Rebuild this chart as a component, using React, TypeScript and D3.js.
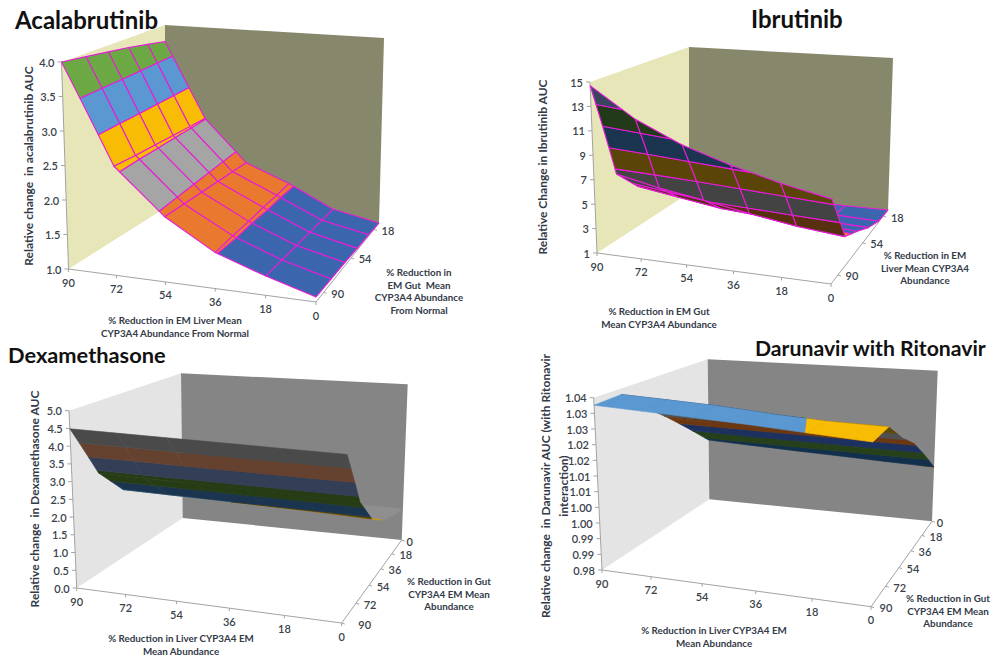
import * as d3 from 'd3';
import React, { useEffect, useRef } from 'react';

type Pt = [number, number];

// Shared category labels
const liverLevels = ['90', '72', '54', '36', '18', '0'];
const gutLevelsFull = ['90', '72', '54', '36', '18', '0'];
const gutLevelsShort = ['90', '54', '18'];

// Relative AUC, one row per depth step from the front of the floor to the back
const acalabrutinibAuc = [
  [4.0, 2.57, 1.93, 1.51, 1.27, 1.07],
  [3.95, 2.55, 1.91, 1.52, 1.25, 1.06],
  [3.9, 2.54, 1.89, 1.52, 1.23, 1.05],
  [3.85, 2.53, 1.87, 1.53, 1.21, 1.03],
  [3.79, 2.52, 1.85, 1.53, 1.19, 1.02],
  [3.73, 2.51, 1.83, 1.54, 1.17, 1.0],
];
const ibrutinibAuc = [
  [14.7, 12.3, 10.6, 9.4, 8.4, 7.6],
  [6.5, 5.7, 5.1, 4.4, 3.8, 3.4],
  [4.5, 3.9, 3.3, 3.0, 2.8, 2.6],
  [3.2, 2.8, 2.4, 2.1, 1.9, 1.7],
  [2.5, 2.1, 1.8, 1.5, 1.3, 1.1],
  [2.0, 1.7, 1.5, 1.2, 1.05, 1.0],
];
const dexamethasoneAuc = [
  [4.49, 4.49, 4.49, 4.49, 4.49, 4.49],
  [2.9, 2.88, 2.86, 2.84, 2.82, 2.8],
  [2.05, 2.03, 2.01, 1.98, 1.95, 1.9],
  [1.65, 1.62, 1.6, 1.56, 1.52, 1.45],
  [1.3, 1.28, 1.26, 1.24, 1.22, 1.2],
  [1.05, 1.04, 1.03, 1.02, 1.01, 1.0],
];
const darunavirAuc = [
  [1.0374, 1.0368, 1.0362, 1.0355, 1.0345, 1.0335],
  [1.0378, 1.0372, 1.0365, 1.0352, 1.0342, 1.034],
  [1.0294, 1.029, 1.0287, 1.0275, 1.0262, 1.0258],
  [1.0218, 1.0213, 1.0208, 1.0204, 1.0199, 1.0194],
  [1.0137, 1.0131, 1.0125, 1.0119, 1.0113, 1.0107],
  [1.0054, 1.0046, 1.0038, 1.0031, 1.0023, 1.0016],
];

const acalabrutinibTicks = ['1.0', '1.5', '2.0', '2.5', '3.0', '3.5', '4.0'];
const ibrutinibTicks = ['1', '3', '5', '7', '9', '11', '13', '15'];
const dexamethasoneTicks = ['0.0', '0.5', '1.0', '1.5', '2.0', '2.5', '3.0', '3.5', '4.0', '4.5', '5.0'];
const darunavirTicks = ['0.98', '0.99', '0.99', '1.00', '1.00', '1.01', '1.01', '1.02', '1.02', '1.03', '1.03', '1.04'];

// Excel's band colours for the upper face and the shaded lower face of a surface
const upperFace = ['#3b66ae', '#e8792e', '#a5a5a5', '#f9bc04', '#5b98d2', '#6ca945'];
const mutedUpperFace = ['#3b66ae', '#e8792e', '#8f8f8f', '#d09a05', '#5b98d2', '#6ca945'];
const lowerFace = ['#3a4560', '#57300f', '#434343', '#5a4408', '#1b3550', '#22391a'];
const dexLowerFace = ['#333e57', '#64422f', '#4a4a4a', '#5a4408', '#1b3550', '#263c15'];
const darLowerFace = ['#1c3160', '#6b3712', '#4f4f4f', '#5a4a08', '#12304e', '#25401a'];

const yellowWalls = { side: '#e6e6b9', back: '#87876c' };
const greyWalls = { side: '#e4e4e4', back: '#858585' };

const charts = [
  {
    title: 'Acalabrutinib', titleX: 15, titleY: 29, titleSize: 24,
    values: acalabrutinibAuc, yTicks: acalabrutinibTicks, domain: [1, 4],
    depthLabels: gutLevelsShort, depthAt: [0.5, 2.5, 4.5], depthDx: [14, 14, 14],
    mesh: true, walls: yellowWalls, faces: upperFace, under: lowerFace, warp: 0.175,
    floor: [[68.5, 269], [316, 302], [379, 223], [165, 208]] as Pt[],
    ceil: [[61.5, 62], [320, 87], [384, 38], [165, 25]] as Pt[],
    yTitle: ['Relative change  in acalabrutinib AUC'], yTitleX: [33], yTitleY: 166,
    xTitle: ['% Reduction in EM Liver Mean', 'CYP3A4 Abundance From Normal'], xTitleX: 175, xTitleY: 324,
    zTitle: ['% Reduction in', 'EM Gut  Mean', 'CYP3A4 Abundance', 'From Normal'], zTitleX: 419, zTitleY: 276,
  },
  {
    title: 'Ibrutinib', titleX: 751, titleY: 28, titleSize: 24,
    values: ibrutinibAuc, yTicks: ibrutinibTicks, domain: [1, 15],
    depthLabels: gutLevelsShort, depthAt: [0.5, 2.5, 4.5], depthDx: [14, 14, 14],
    mesh: true, walls: yellowWalls, faces: upperFace, under: lowerFace, warp: 0.08,
    floor: [[597, 253], [831, 284], [888, 210], [689, 193]] as Pt[],
    ceil: [[590, 82], [833, 104], [893, 58], [689, 47]] as Pt[],
    yTitle: ['Relative Change in Ibrutinib AUC'], yTitleX: [547], yTitleY: 167,
    xTitle: ['% Reduction in EM Gut', 'Mean CYP3A4 Abundance'], xTitleX: 659, xTitleY: 315,
    zTitle: ['% Reduction in EM', 'Liver Mean CYP3A4', 'Abundance'], zTitleX: 925, zTitleY: 259,
  },
  {
    title: 'Dexamethasone', titleX: 8, titleY: 363, titleSize: 21.8,
    values: dexamethasoneAuc, yTicks: dexamethasoneTicks, domain: [0, 5],
    depthLabels: gutLevelsFull, depthAt: [0, 1, 2, 3, 4, 5], depthDx: [23, 14, 14, 14, 14, 8],
    mesh: false, walls: greyWalls, faces: mutedUpperFace, under: dexLowerFace, warp: 0,
    floor: [[76.7, 588], [341.7, 623], [401.7, 540], [182.7, 518]] as Pt[],
    ceil: [[69, 410.7], [347.7, 435.3], [407.7, 384.3], [181, 373.3]] as Pt[],
    yTitle: ['Relative change  in Dexamethasone AUC'], yTitleX: [39], yTitleY: 499,
    xTitle: ['% Reduction in Liver CYP3A4 EM', 'Mean Abundance'], xTitleX: 181, xTitleY: 642.3,
    zTitle: ['% Reduction in Gut', 'CYP3A4 EM Mean', 'Abundance'], zTitleX: 449, zTitleY: 585,
  },
  {
    title: 'Darunavir with Ritonavir', titleX: 755, titleY: 356, titleSize: 21.2,
    values: darunavirAuc, yTicks: darunavirTicks, domain: [0.98, 1.04],
    depthLabels: gutLevelsFull, depthAt: [0, 1, 2, 3, 4, 5], depthDx: [15, 14, 14, 14, 14, 8],
    mesh: false, walls: greyWalls, faces: upperFace, under: darLowerFace, warp: 0,
    floor: [[602, 570], [871, 606.7], [932, 521.3], [709.3, 499.3]] as Pt[],
    ceil: [[593.7, 397.7], [873, 422], [937.7, 370.7], [707.7, 359.3]] as Pt[],
    yTitle: ['Relative change  in Darunavir AUC (with Ritonavir', 'interaction)'], yTitleX: [550, 568], yTitleY: 486,
    xTitle: ['% Reduction in Liver CYP3A4 EM', 'Mean Abundance'], xTitleX: 714, xTitleY: 634,
    zTitle: ['% Reduction in Gut', 'CYP3A4 EM Mean', 'Abundance'], zTitleX: 948, zTitleY: 602,
  },
];

// Maps the unit square onto a screen quad, so depth shortens the way it does in the picture
const quadMap = (q: Pt[]) => {
  const [[x0, y0], [x1, y1], [x2, y2], [x3, y3]] = q;
  const dx1 = x1 - x2, dx2 = x3 - x2, sx = x0 - x1 + x2 - x3;
  const dy1 = y1 - y2, dy2 = y3 - y2, sy = y0 - y1 + y2 - y3;
  const det = dx1 * dy2 - dx2 * dy1;
  const g = (sx * dy2 - dx2 * sy) / det;
  const h = (dx1 * sy - sx * dy1) / det;
  const a = x1 - x0 + g * x1, b = x3 - x0 + h * x3;
  const d = y1 - y0 + g * y1, e = y3 - y0 + h * y3;
  return (u: number, v: number): Pt => {
    const w = g * u + h * v + 1;
    return [(a * u + b * v + x0) / w, (d * u + e * v + y0) / w];
  };
};

type Vertex = { i: number; j: number; val: number };

// Keeps the part of a cell on one side of a value, interpolating along the edges
const clipByValue = (poly: Vertex[], limit: number, keepAbove: boolean) => {
  const inside = (p: Vertex) => (keepAbove ? p.val >= limit : p.val <= limit);
  const out: Vertex[] = [];
  poly.forEach((p, k) => {
    const q = poly[(k + 1) % poly.length];
    if (inside(p)) out.push(p);
    if (inside(p) !== inside(q)) {
      const t = (limit - p.val) / (q.val - p.val);
      out.push({ i: p.i + t * (q.i - p.i), j: p.j + t * (q.j - p.j), val: limit });
    }
  });
  return out;
};

const drawChart = (root: d3.Selection<SVGGElement, unknown, null, undefined>, c: (typeof charts)[number]) => {
  const ticksN = c.yTicks.length - 1;
  const step = (c.domain[1] - c.domain[0]) / ticksN;
  const x = d3.scaleLinear().domain([0, liverLevels.length - 1]).range([0, 1]);
  const z = d3.scaleLinear().domain([0, c.values.length - 1]).range([0, 1]);
  const y = d3.scaleLinear().domain(c.domain).range([0, 1]);
  const floorAt = quadMap(c.floor);
  const ceilAt = quadMap(c.ceil);
  const project = (i: number, j: number, val: number): Pt => {
    // Excel's columns are more even than a plain perspective, mostly at the front
    const u = x(i) + c.warp * (1 - 0.6 * z(j)) * x(i) * (1 - x(i));
    const a = floorAt(u, z(j));
    const b = ceilAt(u, z(j));
    const t = y(val);
    return [a[0] + t * (b[0] - a[0]), a[1] + t * (b[1] - a[1])];
  };
  const path = d3.line<Pt>().curve(d3.curveLinearClosed);
  const [fl, fr, br, bl] = c.floor;
  const [tfl, , tbr, tbl] = c.ceil;

  const g = root.append('g');
  g.append('path').attr('d', path([fl, tfl, tbl, bl])).attr('fill', c.walls.side);
  g.append('path').attr('d', path([bl, tbl, tbr, br])).attr('fill', c.walls.back);

  // Axis lines and ticks
  const axis = '#a3a3a3';
  const line = (a: Pt, b: Pt) => g.append('line').attr('x1', a[0]).attr('y1', a[1]).attr('x2', b[0]).attr('y2', b[1]).attr('stroke', axis);
  line(fl, tfl);
  line(fl, fr);
  line(fr, br);

  const tickFont = { family: 'Lato, sans-serif', size: 11, fill: '#3a3f4a' };
  const label = (text: string, p: Pt, anchor: string) =>
    g.append('text').text(text).attr('x', p[0]).attr('y', p[1]).attr('text-anchor', anchor).attr('dominant-baseline', 'central')
      .attr('font-family', tickFont.family).attr('font-size', tickFont.size).attr('fill', tickFont.fill).attr('font-weight', 600);

  c.yTicks.forEach((t, k) => {
    const p = project(0, 0, c.domain[0] + k * step);
    line(p, [p[0] - 4, p[1]]);
    label(t, [p[0] - 7, p[1]], 'end');
  });
  liverLevels.forEach((t, k) => {
    const p = project(k, 0, c.domain[0]);
    line(p, [p[0], p[1] + 3]);
    label(t, [p[0], p[1] + 13], 'middle');
  });
  c.depthLabels.forEach((t, k) => {
    const p = project(liverLevels.length - 1, c.depthAt[k], c.domain[0]);
    line(p, [p[0] + 3, p[1] + 1]);
    label(t, [p[0] + c.depthDx[k], p[1] + 1], 'middle');
  });

  // Surface cells from back to front, left to right, cut into value bands
  const rows = c.values.length - 1;
  const cols = liverLevels.length - 1;
  for (let j = rows - 1; j >= 0; j -= 1) {
    for (let i = 0; i < cols; i += 1) {
      const cell: Vertex[] = [
        { i, j, val: c.values[j][i] },
        { i: i + 1, j, val: c.values[j][i + 1] },
        { i: i + 1, j: j + 1, val: c.values[j + 1][i + 1] },
        { i, j: j + 1, val: c.values[j + 1][i] },
      ];
      d3.range(ticksN).forEach((band) => {
        const lo = c.domain[0] + band * step;
        let poly = clipByValue(cell, lo, true);
        if (poly.length) poly = clipByValue(poly, lo + step, false);
        if (poly.length < 3) return;
        const pts = poly.map((p) => project(p.i, p.j, p.val));
        // d3.polygonArea is positive when the upper face points at the viewer
        const upper = d3.polygonArea(pts) > 0;
        const fill = (upper ? c.faces : c.under)[band % 6];
        g.append('path').attr('d', path(pts)).attr('fill', fill)
          .attr('stroke', c.mesh ? '#e81bd8' : fill)
          .attr('stroke-width', c.mesh ? 1.1 : 0.6)
          .attr('stroke-linejoin', 'round');
      });
    }
  }

  // Titles
  const titleFont = 'Lato, sans-serif';
  g.append('text').text(c.title).attr('x', c.titleX).attr('y', c.titleY)
    .attr('font-family', titleFont).attr('font-weight', 700).attr('font-size', c.titleSize).attr('fill', '#111');
  const bold = (text: string, px: number, py: number, size = 9.8) =>
    g.append('text').text(text).attr('x', px).attr('y', py).attr('text-anchor', 'middle').attr('xml:space', 'preserve')
      .attr('font-family', titleFont).attr('font-weight', 700).attr('font-size', size).attr('fill', '#333a48');
  c.xTitle.forEach((t, k) => bold(t, c.xTitleX, c.xTitleY + k * 12.7));
  c.zTitle.forEach((t, k) => bold(t, c.zTitleX, c.zTitleY + k * 12.7));
  c.yTitle.forEach((t, k) => {
    bold(t, 0, 0, 12).attr('transform', `translate(${c.yTitleX[k]}, ${c.yTitleY}) rotate(-90)`);
  });
};

const App = () => {
  const ref = useRef<SVGSVGElement>(null);

  useEffect(() => {
    const svg = d3.select(ref.current);
    svg.selectAll('*').remove();
    charts.forEach((c) => drawChart(svg.append('g') as never, c));
  }, []);

  return (
    <svg ref={ref} width={992} height={656} style={{ position: 'absolute', left: 0, top: 0, background: '#fff' }} />
  );
};

export default App;
